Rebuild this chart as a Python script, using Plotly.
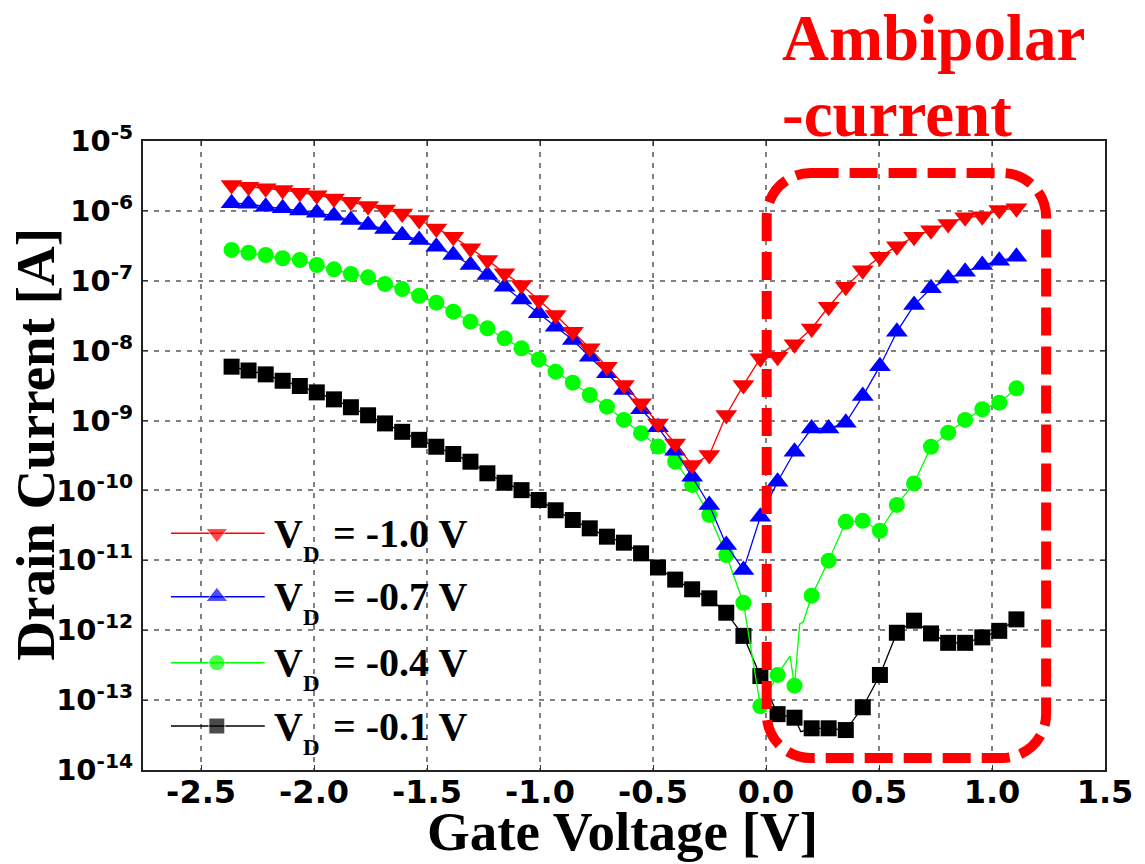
import plotly.graph_objects as go

# Gate voltage sweep points (V)
vg = [-2.365, -2.290, -2.214, -2.139, -2.063, -1.988, -1.912, -1.837, -1.761, -1.686,
      -1.610, -1.535, -1.459, -1.384, -1.308, -1.233, -1.157, -1.082, -1.006, -0.931,
      -0.855, -0.780, -0.704, -0.629, -0.553, -0.478, -0.402, -0.327, -0.251, -0.176,
      -0.100, -0.025, 0.051, 0.126, 0.202, 0.277, 0.353, 0.428, 0.504, 0.579,
      0.655, 0.730, 0.806, 0.881, 0.957, 1.032, 1.108]

# Drain current (A) for each drain bias
id_vd10 = [2.34e-6, 2.21e-6, 2.10e-6, 1.99e-6, 1.82e-6, 1.68e-6, 1.51e-6, 1.35e-6, 1.17e-6, 1.05e-6,
           9.2e-7, 7.4e-7, 5.6e-7, 4.27e-7, 2.91e-7, 1.99e-7, 1.28e-7, 8.7e-8, 5.3e-8, 3.24e-8,
           1.86e-8, 1.08e-8, 5.9e-9, 3.23e-9, 1.77e-9, 9.1e-10, 4.7e-10, 2.31e-10, 3.21e-10, 1.20e-9,
           3.22e-9, 7.8e-9, 8.2e-9, 1.24e-8, 2.08e-8, 4.25e-8, 8.2e-8, 1.42e-7, 2.20e-7, 3.13e-7,
           4.27e-7, 5.3e-7, 6.5e-7, 8.1e-7, 8.4e-7, 1.03e-6, 1.09e-6]
id_vd07 = [1.29e-6, 1.26e-6, 1.15e-6, 1.09e-6, 1.01e-6, 9.4e-7, 8.5e-7, 7.4e-7, 6.3e-7, 5.5e-7,
           4.5e-7, 3.84e-7, 3.08e-7, 2.34e-7, 1.68e-7, 1.21e-7, 8.2e-8, 5.4e-8, 3.43e-8, 2.20e-8,
           1.42e-8, 8.2e-9, 4.75e-9, 2.74e-9, 1.45e-9, 8.0e-10, 3.70e-10, 1.57e-10, 6.2e-11, 1.66e-11,
           7.3e-12, 4.2e-11, 1.33e-10, 3.58e-10, 7.7e-10, 7.7e-10, 9.3e-10, 2.24e-9, 6.0e-9, 1.86e-8,
           4.49e-8, 7.8e-8, 1.08e-7, 1.35e-7, 1.68e-7, 1.93e-7, 2.20e-7]
id_vd04 = [2.76e-7, 2.52e-7, 2.34e-7, 2.10e-7, 1.99e-7, 1.68e-7, 1.46e-7, 1.25e-7, 1.12e-7, 9.0e-8,
           7.6e-8, 6.1e-8, 4.86e-8, 3.61e-8, 2.60e-8, 2.09e-8, 1.50e-8, 1.08e-8, 7.5e-9, 5.0e-9,
           3.48e-9, 2.32e-9, 1.58e-9, 1.02e-9, 6.6e-10, 4.24e-10, 2.58e-10, 1.20e-10, 4.46e-11, 1.19e-11,
           2.47e-12, 8.2e-14, 2.29e-13, 1.61e-13, 3.12e-12, 9.9e-12, 3.56e-11, 3.68e-11, 2.65e-11, 6.2e-11,
           1.26e-10, 4.22e-10, 6.7e-10, 1.02e-9, 1.45e-9, 1.80e-9, 2.89e-9]
id_vd01 = [5.9e-9, 5.2e-9, 4.58e-9, 3.71e-9, 3.12e-9, 2.53e-9, 2.01e-9, 1.55e-9, 1.19e-9, 9.1e-10,
           6.9e-10, 5.3e-10, 4.22e-10, 3.32e-10, 2.58e-10, 1.76e-10, 1.29e-10, 1.01e-10, 7.3e-11, 5.2e-11,
           3.78e-11, 2.87e-11, 2.18e-11, 1.79e-11, 1.26e-11, 7.9e-12, 5.3e-12, 3.85e-12, 2.86e-12, 1.78e-12,
           8.3e-13, 2.21e-13, 6.3e-14, 5.6e-14, 3.95e-14, 3.95e-14, 3.73e-14, 7.9e-14, 2.29e-13, 9.2e-13,
           1.37e-12, 9.0e-13, 6.6e-13, 6.6e-13, 7.9e-13, 9.8e-13, 1.43e-12]

# Intermediate (unmarked) samples of the noisy low-current sweeps
vg_vd04_fine = [0.106, 0.149, 0.165]
id_vd04_fine = [4.28e-13, 1.23e-12, 1.32e-12]
vg_vd01_fine = [0.154]
id_vd01_fine = [3.53e-14]

series_labels = ["-1.0", "-0.7", "-0.4", "-0.1"]
series_colors = ["#FF0000", "#0000FF", "#00FF00", "#000000"]
series_symbols = ["triangle-down", "triangle-up", "circle", "square"]
series_sizes = [19, 19, 16, 16]

x_ticks = [-2.5, -2.0, -1.5, -1.0, -0.5, 0.0, 0.5, 1.0, 1.5]
x_ticktext = ["-2.5", "-2.0", "-1.5", "-1.0", "-0.5", "0.0", "0.5", "1.0", "1.5"]
y_exponents = [-14, -13, -12, -11, -10, -9, -8, -7, -6, -5]

W, H = 1145, 864
ML, MR, MT, MB = 143, 38, 141, 94
PW, PH = W - ML - MR, H - MT - MB


def fx(p):
    """pixel column -> paper x"""
    return (p - ML) / PW


def fy(p):
    """pixel row -> paper y"""
    return (H - MB - p) / PH


def merged(xa, ya, xb, yb):
    pts = sorted(zip(list(xa) + list(xb), list(ya) + list(yb)))
    return [p[0] for p in pts], [p[1] for p in pts]


fig = go.Figure()

line_w = 1.3
# V_D = -0.1 V
lx, ly = merged(vg, id_vd01, vg_vd01_fine, id_vd01_fine)
fig.add_trace(go.Scatter(x=lx, y=ly, mode="lines", line=dict(color=series_colors[3], width=line_w),
                         showlegend=False, hoverinfo="skip"))
fig.add_trace(go.Scatter(x=vg, y=id_vd01, mode="markers", showlegend=False,
                         marker=dict(symbol=series_symbols[3], size=series_sizes[3], color=series_colors[3])))
# V_D = -0.4 V
lx, ly = merged(vg, id_vd04, vg_vd04_fine, id_vd04_fine)
fig.add_trace(go.Scatter(x=lx, y=ly, mode="lines", line=dict(color=series_colors[2], width=line_w),
                         showlegend=False, hoverinfo="skip"))
fig.add_trace(go.Scatter(x=vg, y=id_vd04, mode="markers", showlegend=False,
                         marker=dict(symbol=series_symbols[2], size=series_sizes[2], color=series_colors[2])))
# V_D = -0.7 V
fig.add_trace(go.Scatter(x=vg, y=id_vd07, mode="lines+markers", showlegend=False,
                         line=dict(color=series_colors[1], width=line_w),
                         marker=dict(symbol=series_symbols[1], size=series_sizes[1], color=series_colors[1])))
# V_D = -1.0 V
fig.add_trace(go.Scatter(x=vg, y=id_vd10, mode="lines+markers", showlegend=False,
                         line=dict(color=series_colors[0], width=line_w),
                         marker=dict(symbol=series_symbols[0], size=series_sizes[0], color=series_colors[0])))

# Hand-built legend keys on an overlaid unit axis
key_x0, key_xm, key_x1 = fx(171), fx(217), fx(265)
key_rows = [533.3, 596.7, 662.7, 726.0]
for i in range(4):
    yk = fy(key_rows[i])
    fig.add_trace(go.Scatter(x=[key_x0, key_xm, key_x1], y=[yk, yk, yk], mode="lines+markers",
                             xaxis="x2", yaxis="y2", showlegend=False, hoverinfo="skip",
                             line=dict(color=series_colors[i], width=1.5),
                             marker=dict(symbol=series_symbols[i], color=series_colors[i],
                                         size=[0, series_sizes[i], 0])))

serif = "Liberation Serif"
sans = "DejaVu Sans"
annotations = []
for i in range(4):
    yc = key_rows[i]
    annotations.append(dict(text="V", x=fx(273), y=fy(yc), xref="paper", yref="paper",
                            xanchor="left", yanchor="middle", showarrow=False, borderpad=0,
                            font=dict(family=serif, size=40, color="black", weight="bold")))
    annotations.append(dict(text="D", x=fx(302), y=fy(yc + 21), xref="paper", yref="paper",
                            xanchor="left", yanchor="middle", showarrow=False, borderpad=0,
                            font=dict(family=serif, size=23, color="black", weight="bold")))
    annotations.append(dict(text="= " + series_labels[i] + " V", x=fx(332), y=fy(yc),
                            xref="paper", yref="paper", xanchor="left", yanchor="middle",
                            showarrow=False, borderpad=0,
                            font=dict(family=serif, size=40, color="black", weight="bold")))

# Axis titles
annotations.append(dict(text="Gate Voltage [V]", x=fx(623), y=fy(831), xref="paper", yref="paper",
                        xanchor="center", yanchor="middle", showarrow=False,
                        font=dict(family=serif, size=55, color="black", weight="bold")))
annotations.append(dict(text="Drain Current [A]", x=fx(34.5), y=fy(444), xref="paper", yref="paper",
                        xanchor="center", yanchor="middle", showarrow=False, textangle=-90,
                        font=dict(family=serif, size=55, color="black", weight="bold")))
# Highlight caption
annotations.append(dict(text="Ambipolar", x=fx(782), y=fy(38), xref="paper", yref="paper",
                        xanchor="left", yanchor="middle", showarrow=False, borderpad=0,
                        font=dict(family=serif, size=65, color="#FF0000", weight="bold")))
annotations.append(dict(text="-current", x=fx(782), y=fy(114), xref="paper", yref="paper",
                        xanchor="left", yanchor="middle", showarrow=False, borderpad=0,
                        font=dict(family=serif, size=65, color="#FF0000", weight="bold")))

# Rounded dashed frame around the ambipolar region
bx0, bx1, by0, by1, rr = 768, 1048, 173, 758, 44
kk = 0.5523 * rr


def P(x, y):
    return f"{fx(x):.5f},{fy(y):.5f}"


frame_path = (
    f"M{P(bx0 + rr, by0)} L{P(bx1 - rr, by0)} "
    f"C{P(bx1 - rr + kk, by0)} {P(bx1, by0 + rr - kk)} {P(bx1, by0 + rr)} "
    f"L{P(bx1, by1 - rr)} "
    f"C{P(bx1, by1 - rr + kk)} {P(bx1 - rr + kk, by1)} {P(bx1 - rr, by1)} "
    f"L{P(bx0 + rr, by1)} "
    f"C{P(bx0 + rr - kk, by1)} {P(bx0, by1 - rr + kk)} {P(bx0, by1 - rr)} "
    f"L{P(bx0, by0 + rr)} "
    f"C{P(bx0, by0 + rr - kk)} {P(bx0 + rr - kk, by0)} {P(bx0 + rr, by0)} Z"
)

shapes = [
    # legend backdrop hides the grid behind the keys
    dict(type="rect", xref="paper", yref="paper", x0=0, x1=fx(481), y0=0, y1=fy(485),
         fillcolor="white", line=dict(width=0), layer="between"),
    dict(type="path", xref="paper", yref="paper", path=frame_path, layer="above",
         line=dict(color="#FF0000", width=10, dash="28px,11px")),
]

grid = dict(showgrid=True, gridcolor="#808080", gridwidth=1.8, griddash="5px,6px")
fig.update_layout(
    width=W, height=H, autosize=False,
    margin=dict(l=ML, r=MR, t=MT, b=MB, pad=0),
    paper_bgcolor="white", plot_bgcolor="white",
    showlegend=False,
    xaxis=dict(range=[-2.757, 1.5], tickmode="array", tickvals=x_ticks, ticktext=x_ticktext,
               ticks="inside", ticklen=5, tickwidth=1, tickcolor="#333333",
               showline=True, linecolor="#222222", linewidth=2, mirror="ticks", zeroline=False,
               tickfont=dict(family=sans, size=32, color="black", weight="bold"),
               ticklabelstandoff=-7, **grid),
    yaxis=dict(type="log", range=[-14, -5], tickmode="array",
               tickvals=[10.0 ** e for e in y_exponents],
               ticktext=[f"10<sup>{e}</sup>" for e in y_exponents],
               ticks="inside", ticklen=5, tickwidth=1, tickcolor="#333333",
               showline=True, linecolor="#222222", linewidth=2, mirror="ticks", zeroline=False,
               tickfont=dict(family=sans, size=29, color="black", weight="bold"),
               ticklabelstandoff=2, **grid),
    xaxis2=dict(overlaying="x", range=[0, 1], visible=False, fixedrange=True),
    yaxis2=dict(overlaying="y", range=[0, 1], visible=False, fixedrange=True),
    annotations=annotations,
    shapes=shapes,
)

fig.write_html("out.html")
